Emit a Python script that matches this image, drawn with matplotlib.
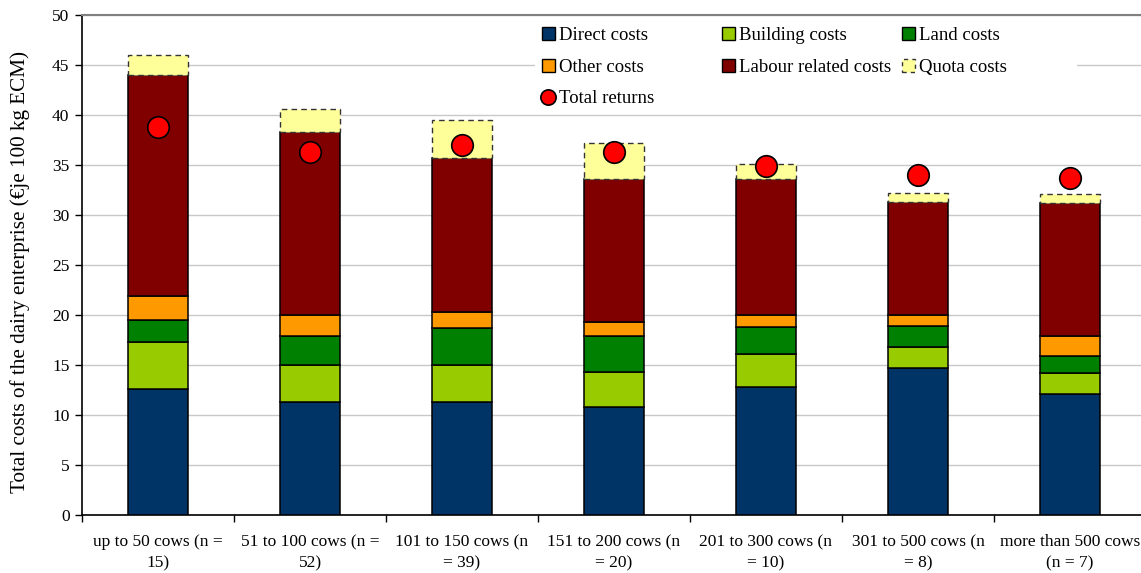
import matplotlib
matplotlib.use("Agg")
import matplotlib.pyplot as plt
from matplotlib.patches import Rectangle, Patch
from matplotlib.lines import Line2D
from matplotlib.legend import Legend
import numpy as np

plt.rcParams['font.family'] = ['Liberation Serif', 'DejaVu Serif']

categories = ["up to 50 cows (n =\n15)", "51 to 100 cows (n =\n52)",
              "101 to 150 cows (n\n= 39)", "151 to 200 cows (n\n= 20)",
              "201 to 300 cows (n\n= 10)", "301 to 500 cows (n\n= 8)",
              "more than 500 cows\n(n = 7)"]
direct_costs = [12.6, 11.3, 11.3, 10.8, 12.8, 14.7, 12.1]
building_costs = [4.7, 3.7, 3.7, 3.5, 3.3, 2.1, 2.1]
land_costs = [2.2, 2.9, 3.7, 3.6, 2.7, 2.1, 1.7]
other_costs = [2.4, 2.1, 1.6, 1.4, 1.2, 1.1, 2.0]
labour_costs = [22.1, 18.3, 15.4, 14.3, 13.6, 11.3, 13.3]
quota_costs = [2.0, 2.3, 3.8, 3.6, 1.5, 0.9, 0.9]
total_returns = [38.8, 36.3, 37.0, 36.3, 34.9, 34.0, 33.7]

series = [("Direct costs", direct_costs, "#003366"),
          ("Building costs", building_costs, "#99CC00"),
          ("Land costs", land_costs, "#008000"),
          ("Other costs", other_costs, "#FF9900"),
          ("Labour related costs", labour_costs, "#800000")]

fig = plt.figure(figsize=(11.41, 5.73), dpi=100)
AX_L, AX_W, AX_B, AX_H = 82, 1064, 58, 500
ax = fig.add_axes([AX_L/1141, AX_B/573, AX_W/1141, AX_H/573])

x = np.arange(len(categories))
width = 0.4
bottom = np.zeros(len(categories))
handles = {}
for name, vals, col in series:
    ax.bar(x, vals, width, bottom=bottom, color=col, edgecolor='black',
           linewidth=1.1, zorder=3)
    handles[name] = Patch(facecolor=col, edgecolor='black', linewidth=1.0)
    bottom += np.array(vals)
ax.bar(x, quota_costs, width, bottom=bottom, color="#FFFF99", edgecolor='#333333',
       linewidth=1.0, linestyle=(0, (4, 3)), zorder=3)
handles["Quota costs"] = Patch(facecolor="#FFFF99", edgecolor='#333333',
                               linewidth=1.0, linestyle=(0, (3, 3)))
ax.plot(x, total_returns, linestyle='none', marker='o', markersize=15.5,
        markerfacecolor='#FF0000', markeredgecolor='black', markeredgewidth=1.2,
        zorder=5)
handles["Total returns"] = Line2D([], [], linestyle='none', marker='o', markersize=11,
                                  markerfacecolor='#FF0000', markeredgecolor='black',
                                  markeredgewidth=1.2)

ax.set_xlim(-0.5, 6.5)
ax.set_ylim(0, 50)
ax.set_yticks(np.arange(0, 51, 5))
ax.set_xticks(x)
ax.set_xticklabels(categories, fontsize=12.5, linespacing=1.45)
ax.set_xticks(np.arange(-0.5, 7, 1), minor=True)
ax.tick_params(axis='x', which='major', length=0, pad=14)
ax.tick_params(axis='x', which='minor', length=5, width=1, direction='out')
ax.tick_params(axis='y', length=5, width=1, direction='out', labelsize=12.5, pad=4)
ax.grid(axis='y', color='#C8C8C8', linewidth=1.0, zorder=0)
ax.set_axisbelow(True)
for s in ['left', 'bottom']:
    ax.spines[s].set_color('black')
    ax.spines[s].set_linewidth(1.2)
ax.spines['top'].set_color('#808080')
ax.spines['top'].set_linewidth(1.5)
ax.spines['right'].set_visible(False)

ax.set_ylabel("Total costs of the dairy enterprise (€je 100 kg ECM)", fontsize=15.2)
ax.yaxis.set_label_coords(-(82-30)/AX_W, (515-272)/AX_H)

# white area behind legend
ax.add_patch(Rectangle(((535-AX_L)/AX_W, 1 - (110-15)/AX_H), (1077-535)/AX_W, 88/AX_H,
                       transform=ax.transAxes, facecolor='white', edgecolor='none', zorder=1))

columns = [(["Direct costs", "Other costs", "Total returns"], 538),
           (["Building costs", "Labour related costs"], 718),
           (["Land costs", "Quota costs"], 898)]
for labels, px in columns:
    leg = Legend(ax, [handles[k] for k in labels], labels, loc='upper left',
                 bbox_to_anchor=((px-AX_L)/AX_W, 1 - 8/AX_H), frameon=False,
                 fontsize=13.5, handlelength=0.7, handleheight=0.7,
                 handletextpad=0.2, labelspacing=0.78,
                 borderpad=0.2, borderaxespad=0)
    leg.set_zorder(6)
    ax.add_artist(leg)

fig.savefig("out.png", dpi=100)
